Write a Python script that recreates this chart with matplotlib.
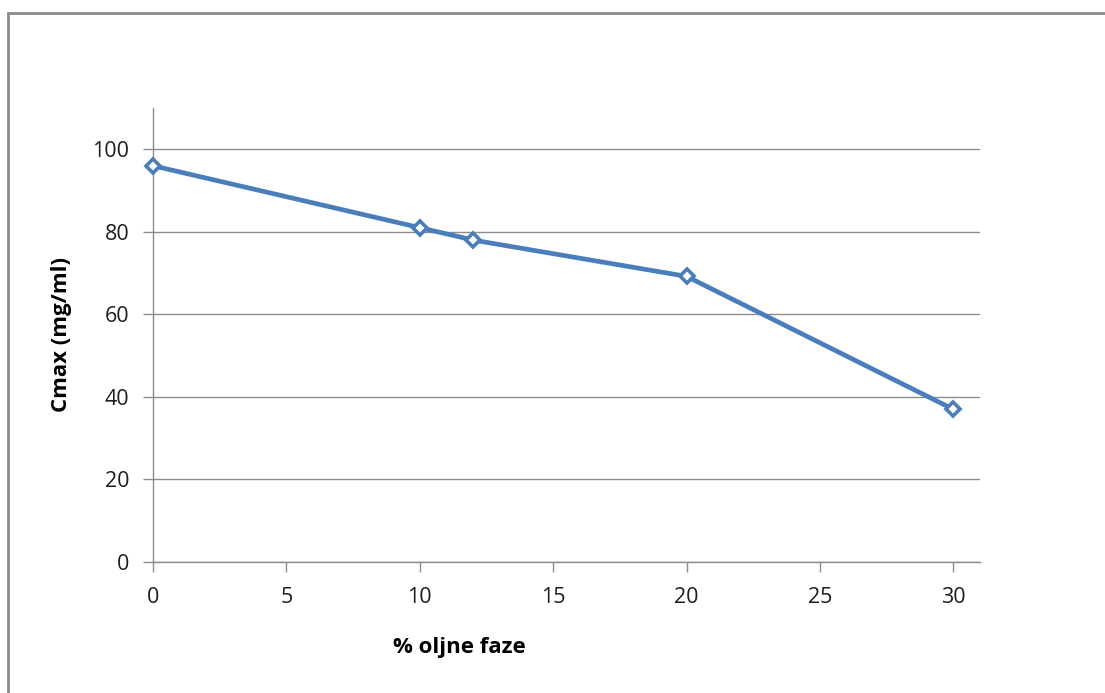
import matplotlib
matplotlib.use("Agg")
from matplotlib import pyplot as plt
from matplotlib.patches import Rectangle

oil_pct = [0, 10, 12, 20, 30]
cmax = [96, 81, 78, 69.2, 37]
x_ticks = [0, 5, 10, 15, 20, 25, 30]
y_ticks = [0, 20, 40, 60, 80, 100]

plt.rcParams['font.family'] = ['Open Sans', 'DejaVu Sans']

fig = plt.figure(figsize=(11.05, 6.93), dpi=100)
ax = fig.add_axes([0.1385, 0.189, 0.7484, 0.6552])

# outer chart frame (runs off the right and bottom of the image)
fig.patches.append(Rectangle((8 / 1105, -0.1), 1.2, 0.1 + (693 - 13) / 693,
                             transform=fig.transFigure, fill=False,
                             edgecolor='#8a8a8a', lw=2))

grid_c = '#8c8c8c'
ax.plot(oil_pct, cmax, c='#4a7ebb', lw=3.4, marker='D', markersize=7.5,
        markerfacecolor='white', markeredgecolor='#4a7ebb', markeredgewidth=2.6,
        zorder=3, clip_on=False)

ax.set_xlim(0, 31)
ax.set_ylim(0, 110)
ax.set_xticks(x_ticks)
ax.set_yticks(y_ticks)
ax.yaxis.grid(True, color=grid_c, lw=1)
ax.set_axisbelow(True)

for side in ['top', 'right']:
    ax.spines[side].set_visible(False)
for side in ['left', 'bottom']:
    ax.spines[side].set_color(grid_c)
    ax.spines[side].set_linewidth(1)

ax.tick_params(axis='both', which='major', labelsize=15.5, colors=grid_c,
               labelcolor='#1e1e1e', length=7, width=1)
ax.tick_params(axis='y', pad=10)
ax.tick_params(axis='x', pad=11)

fig.text(62 / 1105, 1 - 335 / 693, 'Cmax (mg/ml)', fontsize=16,
         fontweight='bold', rotation=90, ha='center', va='center')
fig.text(459 / 1105, 1 - 647 / 693, '% oljne faze', fontsize=16,
         fontweight='bold', ha='center', va='center')

plt.savefig('out.png', dpi=100)
